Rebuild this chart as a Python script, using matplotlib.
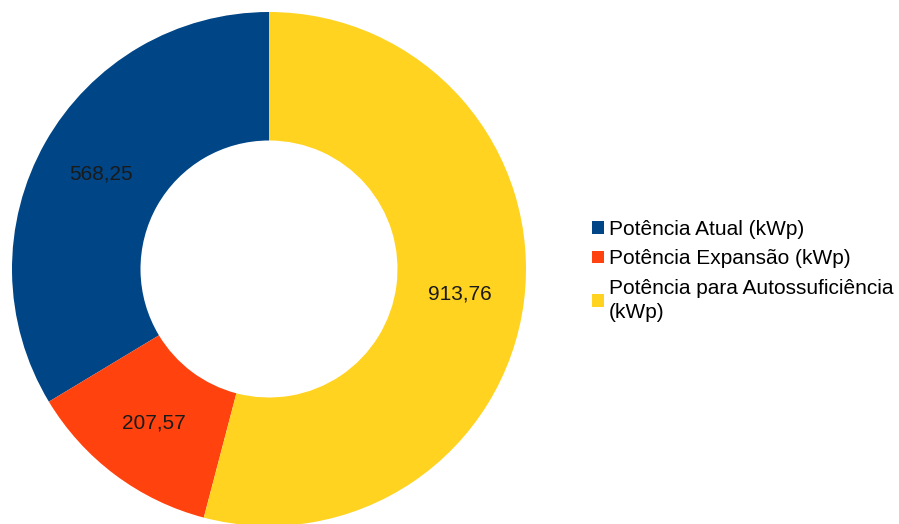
import matplotlib.pyplot as plt
from matplotlib.patches import Patch

plt.rcParams['font.family'] = ['Liberation Sans', 'DejaVu Sans']

# Dados
categorias = ['Potência Atual (kWp)', 'Potência Expansão (kWp)',
              'Potência para Autossuficiência\n(kWp)']
valores = [568.25, 207.57, 913.76]
cores = ['#004586', '#ff420e', '#ffd320']

total = sum(valores)


def rotulo(pct):
    return f'{pct * total / 100:.2f}'.replace('.', ',')


fig = plt.figure(figsize=(8.99, 5.24), dpi=100)

# Posição do gráfico em pixels
cx, cy, r = 269, 269, 257
W, H = 899, 524
ax = fig.add_axes([(cx - r) / W, (H - cy - r) / H, 2 * r / W, 2 * r / H])

ax.pie(valores, colors=cores, startangle=90, counterclock=True,
       radius=1.0, wedgeprops=dict(width=0.5, linewidth=0),
       autopct=rotulo, pctdistance=0.75,
       textprops=dict(fontsize=15, color='#1a1a1a'))
ax.set_xlim(-1, 1)
ax.set_ylim(-1, 1)
ax.set_aspect('equal')
ax.axis('off')

# Legenda
handles = [Patch(facecolor=c, edgecolor='none') for c in cores]
leg = fig.legend(handles, categorias, loc='upper left', bbox_to_anchor=(0.659, 0.580),
                 frameon=False, fontsize=15, handlelength=0.55, handleheight=0.55,
                 handletextpad=0.25, labelspacing=0.5, borderpad=0, borderaxespad=0)
for t in leg.get_texts():
    t.set_linespacing(1.35)

fig.savefig('out.png', dpi=100)
plt.close()
